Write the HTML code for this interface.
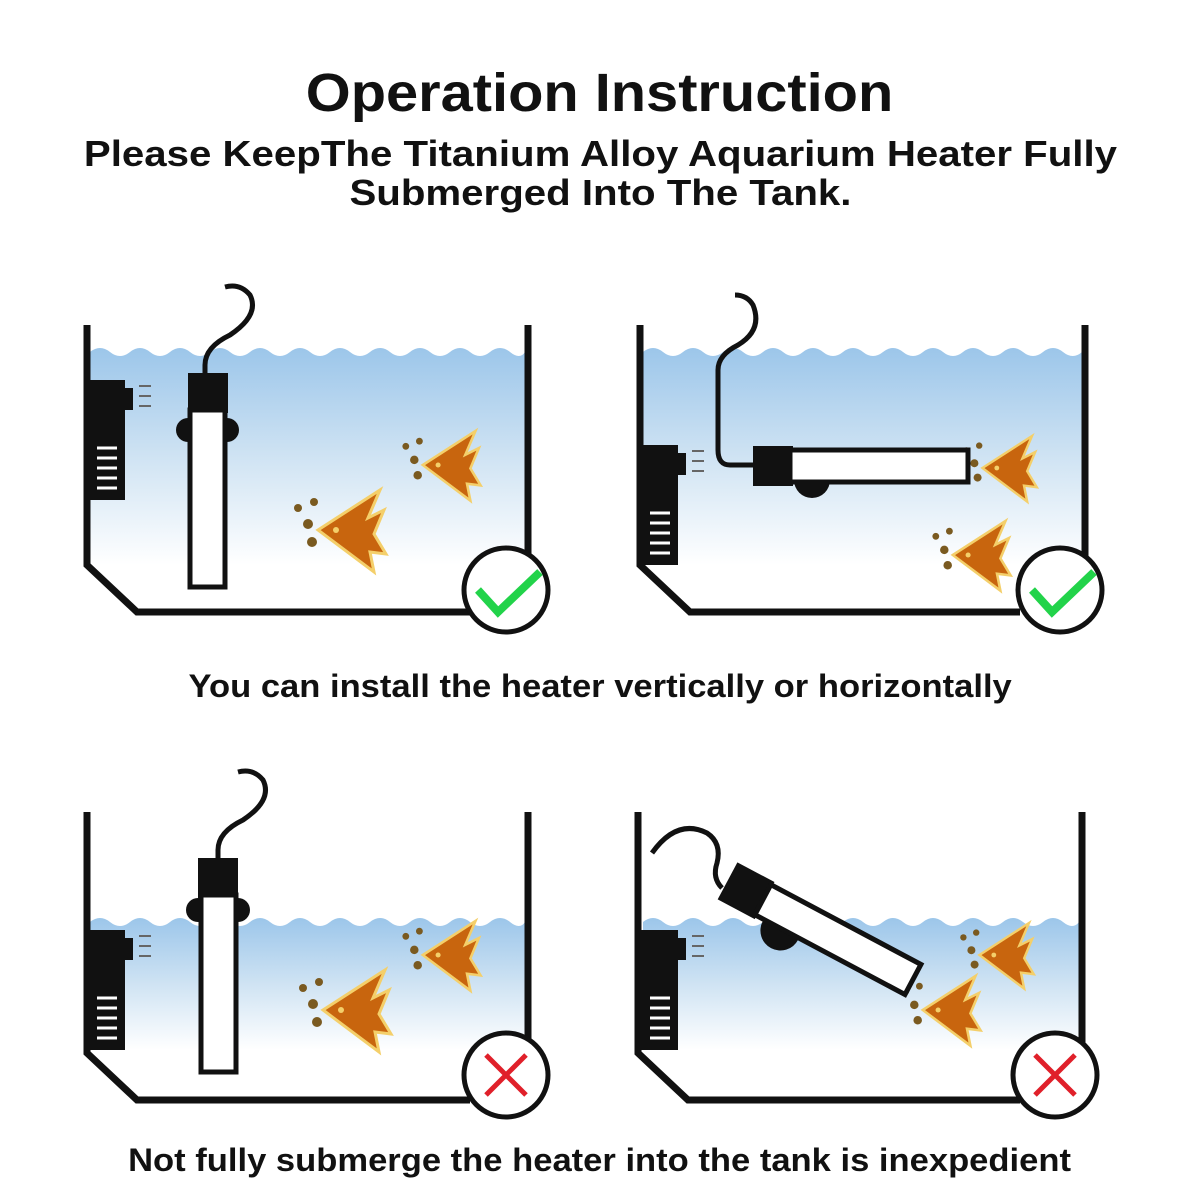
<!DOCTYPE html><html><head><style>
body{margin:0;width:1200px;height:1200px;background:#fff;overflow:hidden;font-family:"Liberation Sans",sans-serif}
.t{position:absolute;left:0;width:1200px;text-align:center;font-weight:bold;color:#111}
.t span{display:inline-block}
</style></head><body>
<div class="t" style="top:62px;font-size:54px"><span style="transform:scaleX(1.07)">Operation Instruction</span></div>
<div class="t" style="top:134px;font-size:36px;line-height:39px"><span style="transform:scaleX(1.117)">Please KeepThe Titanium Alloy Aquarium Heater Fully<br>Submerged Into The Tank.</span></div>
<div class="t" style="top:668px;font-size:32px"><span style="transform:scaleX(1.08)">You can install the heater vertically or horizontally</span></div>
<div class="t" style="top:1142px;font-size:32px"><span style="transform:scaleX(1.08)">Not fully submerge the heater into the tank is inexpedient</span></div>
<svg width="1200" height="1200" style="position:absolute;left:0;top:0">
<defs>
<linearGradient id="w1" x1="0" y1="0" x2="0" y2="1"><stop offset="0" stop-color="#9cc6ea"/><stop offset="0.5" stop-color="#cfe3f3"/><stop offset="1" stop-color="#fff"/></linearGradient>
<g id="fish"><polygon points="-32,0 30,-40 18,-12 34,-20 24,4 36,24 20,22 24,42" fill="#c8650e" stroke="#f4cf6a" stroke-width="3"/><circle cx="-14" cy="0" r="3" fill="#f4cf6a"/><circle cx="-42" cy="-6" r="5" fill="#7a5a20"/><circle cx="-38" cy="12" r="5" fill="#7a5a20"/><circle cx="-52" cy="-22" r="4" fill="#7a5a20"/><circle cx="-36" cy="-28" r="4" fill="#7a5a20"/></g>
<g id="filt"><path d="M0,0 H38 V8 H46 V30 H38 V120 H0 Z" fill="#111"/><g stroke="#fff" stroke-width="3"><line x1="10" y1="68" x2="30" y2="68"/><line x1="10" y1="78" x2="30" y2="78"/><line x1="10" y1="88" x2="30" y2="88"/><line x1="10" y1="98" x2="30" y2="98"/><line x1="10" y1="108" x2="30" y2="108"/></g><g fill="none" stroke="#666" stroke-width="2"><path d="M52,6 h12 M52,16 h12 M52,26 h12"/></g></g>
</defs>
<!-- Tank 1 -->
<path d="M90,352 q10,-8 20,0 t20,0 t20,0 t20,0 t20,0 t20,0 t20,0 t20,0 t20,0 t20,0 t20,0 t20,0 t20,0 t20,0 t20,0 t20,0 t20,0 t20,0 t20,0 t20,0 t20,0 t15,0 V565 H90 Z" fill="url(#w1)"/>
<use href="#fish" transform="translate(350,530)"/><use href="#fish" transform="translate(450,465) scale(0.85)"/>
<use href="#filt" transform="translate(87,380)"/>
<path d="M205,373 V365 q0,-18 25,-30 q30,-20 20,-40 q-10,-12 -25,-8" fill="none" stroke="#111" stroke-width="5"/>
<circle cx="188" cy="430" r="12" fill="#111"/><circle cx="227" cy="430" r="12" fill="#111"/>
<rect x="188" y="373" width="40" height="40" fill="#111"/><rect x="190" y="410" width="35" height="177" fill="#fff" stroke="#111" stroke-width="5"/>
<polyline points="87,325 87,565 137,612 470,612" fill="none" stroke="#111" stroke-width="7"/><line x1="528" y1="325" x2="528" y2="560" stroke="#111" stroke-width="7"/>
<!-- Tank 2 -->
<path d="M643,352 q10,-8 20,0 t20,0 t20,0 t20,0 t20,0 t20,0 t20,0 t20,0 t20,0 t20,0 t20,0 t20,0 t20,0 t20,0 t20,0 t20,0 t20,0 t20,0 t20,0 t20,0 t20,0 t19,0 V565 H643 Z" fill="url(#w1)"/>
<use href="#fish" transform="translate(1008,468) scale(0.8)"/><use href="#fish" transform="translate(980,555) scale(0.85)"/>
<use href="#filt" transform="translate(640,445)"/>
<path d="M755,465 H730 q-12,0 -12,-15 V370 q0,-15 20,-25 q25,-15 15,-40 q-6,-10 -18,-10" fill="none" stroke="#111" stroke-width="5"/>
<circle cx="812" cy="480" r="18" fill="#111"/>
<rect x="753" y="446" width="40" height="40" fill="#111"/><rect x="790" y="450" width="178" height="32" fill="#fff" stroke="#111" stroke-width="5"/>
<polyline points="640,325 640,565 690,612 1020,612" fill="none" stroke="#111" stroke-width="7"/><line x1="1085" y1="325" x2="1085" y2="560" stroke="#111" stroke-width="7"/>
<!-- Tank 3 -->
<path d="M90,922 q10,-8 20,0 t20,0 t20,0 t20,0 t20,0 t20,0 t20,0 t20,0 t20,0 t20,0 t20,0 t20,0 t20,0 t20,0 t20,0 t20,0 t20,0 t20,0 t20,0 t20,0 t20,0 t15,0 V1050 H90 Z" fill="url(#w1)"/>
<use href="#fish" transform="translate(355,1010)"/><use href="#fish" transform="translate(450,955) scale(0.85)"/>
<use href="#filt" transform="translate(87,930)"/>
<path d="M218,860 V850 q0,-18 25,-30 q30,-20 20,-40 q-10,-12 -25,-8" fill="none" stroke="#111" stroke-width="5"/>
<circle cx="198" cy="910" r="12" fill="#111"/><circle cx="238" cy="910" r="12" fill="#111"/>
<rect x="198" y="858" width="40" height="40" fill="#111"/><rect x="201" y="895" width="35" height="177" fill="#fff" stroke="#111" stroke-width="5"/>
<polyline points="87,812 87,1053 137,1100 470,1100" fill="none" stroke="#111" stroke-width="7"/><line x1="528" y1="812" x2="528" y2="1045" stroke="#111" stroke-width="7"/>
<!-- Tank 4 -->
<path d="M643,922 q10,-8 20,0 t20,0 t20,0 t20,0 t20,0 t20,0 t20,0 t20,0 t20,0 t20,0 t20,0 t20,0 t20,0 t20,0 t20,0 t20,0 t20,0 t20,0 t20,0 t20,0 t20,0 t16,0 V1050 H643 Z" fill="url(#w1)"/>
<use href="#fish" transform="translate(1005,955) scale(0.8)"/><use href="#fish" transform="translate(950,1010) scale(0.85)"/>
<use href="#filt" transform="translate(640,930)"/>
<path d="M722,888 q-10,-10 -5,-25 q5,-20 -10,-30 q-30,-15 -55,20" fill="none" stroke="#111" stroke-width="5"/>
<g transform="translate(728,880) rotate(28)"><circle cx="70" cy="20" r="20" fill="#111"/><rect x="0" y="-20" width="42" height="42" fill="#111"/><rect x="40" y="-16" width="170" height="34" fill="#fff" stroke="#111" stroke-width="5"/></g>
<polyline points="638,812 638,1053 688,1100 1020,1100" fill="none" stroke="#111" stroke-width="7"/><line x1="1082" y1="812" x2="1082" y2="1045" stroke="#111" stroke-width="7"/>
<!-- marks -->
<g stroke="#111" stroke-width="5" fill="#fff"><circle cx="506" cy="590" r="42"/><circle cx="1060" cy="590" r="42"/><circle cx="506" cy="1075" r="42"/><circle cx="1055" cy="1075" r="42"/></g>
<g stroke="#22d34a" stroke-width="8" fill="none"><polyline points="478,590 498,612 540,572"/><polyline points="1032,590 1052,612 1094,572"/></g>
<g stroke="#e0202a" stroke-width="5"><path d="M486,1055 L526,1095 M526,1055 L486,1095"/><path d="M1035,1055 L1075,1095 M1075,1055 L1035,1095"/></g>
</svg>
</body></html>
